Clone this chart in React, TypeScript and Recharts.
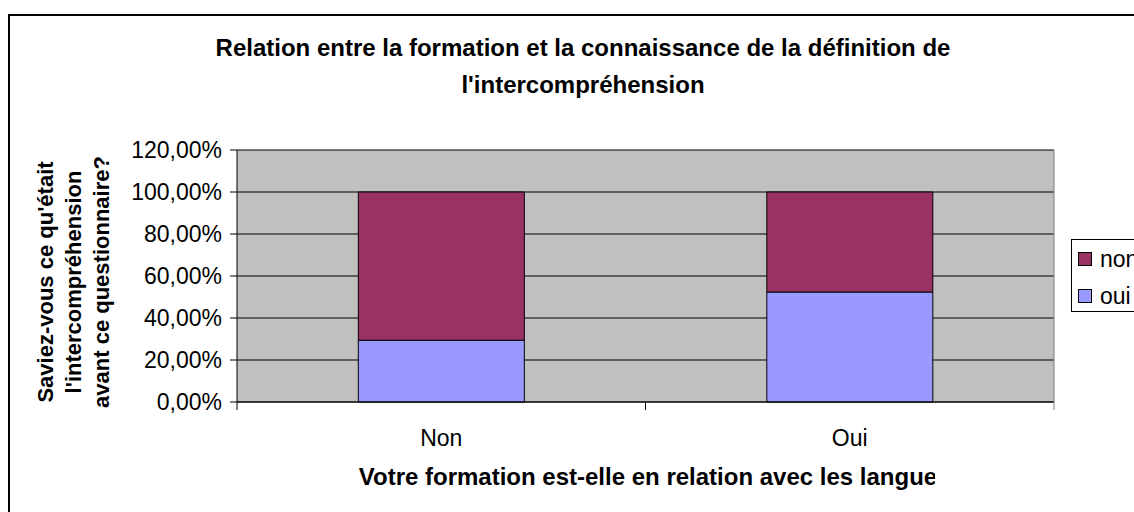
import React from 'react';
import { BarChart, Bar, XAxis, YAxis, CartesianGrid, Legend } from 'recharts';

const categories = ['Non', 'Oui'];
const ouiValues = [29.41, 52.38];
const nonValues = [70.59, 47.62];
const yTicks = [0, 20, 40, 60, 80, 100, 120];
const seriesKeys = ['oui', 'non'];
const seriesColors = ['#9999FF', '#993366'];
const legendOrder = ['non', 'oui'];

const titleLines = [
  'Relation entre la formation et la connaissance de la définition de',
  "l'intercompréhension",
];
const yTitleLines = ["Saviez-vous ce qu'était", "l'intercompréhension", 'avant ce questionnaire?'];
const xTitle = 'Votre formation est-elle en relation avec les langues?';

const data = categories.map((c, i) => ({ cat: c, oui: ouiValues[i], non: nonValues[i] }));

const FONT = '"Liberation Sans", Arial, Helvetica, sans-serif';

const XTick = (props: any) => {
  const { x, y, payload, index, visibleTicksCount } = props;
  const off = payload && payload.offset ? payload.offset : 0;
  return (
    <g>
      <line x1={x - off} x2={x - off} y1={y} y2={y + 8} stroke="#000" strokeWidth={1} />
      {index === visibleTicksCount - 1 && (
        <line x1={x + off} x2={x + off} y1={y} y2={y + 8} stroke="#808080" strokeWidth={1} />
      )}
      <text x={x} y={y + 44} textAnchor="middle" fontFamily={FONT} fontSize={23} fill="#000">
        {payload.value}
      </text>
    </g>
  );
};

const LegendBox = (props: any) => {
  const items = [...(props.payload || [])].sort(
    (a: any, b: any) => legendOrder.indexOf(a.value) - legendOrder.indexOf(b.value)
  );
  return (
    <div
      style={{
        position: 'relative',
        width: 80,
        height: 73,
        border: '1px solid #000',
        background: '#fff',
        boxSizing: 'border-box',
        fontFamily: FONT,
        fontSize: 23,
        color: '#000',
      }}
    >
      {items.map((it: any, i: number) => (
        <div
          key={it.value}
          style={{ position: 'absolute', left: 6, top: 12 + i * 37, display: 'flex', alignItems: 'center', height: 14 }}
        >
          <span
            style={{
              width: 14,
              height: 14,
              background: it.color,
              border: '1px solid #000',
              boxSizing: 'border-box',
              display: 'inline-block',
            }}
          />
          <span style={{ marginLeft: 8, lineHeight: '14px', whiteSpace: 'nowrap' }}>{it.value}</span>
        </div>
      ))}
    </div>
  );
};

export default function App() {
  return (
    <div
      style={{
        position: 'fixed',
        left: 0,
        top: 0,
        width: 1134,
        height: 512,
        overflow: 'hidden',
        background: '#fff',
      }}
    >
      <div
        style={{
          position: 'absolute',
          left: 8,
          top: 14,
          width: 1160,
          height: 520,
          border: '2px solid #000',
          boxSizing: 'border-box',
        }}
      />
      <div style={{ position: 'absolute', left: 0, top: 0 }}>
        <BarChart
          width={1134}
          height={512}
          data={data}
          margin={{ top: 150, right: 0, bottom: 50, left: 0 }}
          barCategoryGap="29.7%"
        >
          <CartesianGrid vertical={false} fill="#C0C0C0" stroke="#000" strokeWidth={1} />
          <XAxis
            dataKey="cat"
            height={60}
            interval={0}
            tickLine={false}
            tickSize={0}
            tickMargin={0}
            axisLine={{ stroke: '#000' }}
            tick={<XTick />}
          />
          <YAxis
            width={237}
            domain={[0, 120]}
            ticks={yTicks}
            interval={0}
            tickSize={7}
            tickMargin={8}
            axisLine={{ stroke: '#000' }}
            tickLine={{ stroke: '#000' }}
            tick={{ fontFamily: FONT, fontSize: 23, fill: '#000' }}
            tickFormatter={(v: number) => `${v},00%`}
          />
          <YAxis
            yAxisId="r"
            orientation="right"
            width={80}
            domain={[0, 120]}
            tick={false}
            tickLine={false}
            axisLine={{ stroke: '#808080' }}
          />
          {seriesKeys.map((k, i) => (
            <Bar
              key={k}
              dataKey={k}
              name={k}
              stackId="s"
              fill={seriesColors[i]}
              stroke="#000"
              strokeWidth={1}
              isAnimationActive={false}
            />
          ))}
          <Legend
            layout="vertical"
            align="center"
            verticalAlign="middle"
            content={<LegendBox />}
            wrapperStyle={{ left: 1071, top: 239, width: 80, height: 73 }}
          />
        </BarChart>
      </div>
      <svg
        width={1134}
        height={512}
        style={{ position: 'absolute', left: 0, top: 0, pointerEvents: 'none' }}
      >
        <defs>
          <clipPath id="xtitle-clip" clipPathUnits="userSpaceOnUse">
            <rect x={0} y={0} width={935} height={512} />
          </clipPath>
        </defs>
        {titleLines.map((t, i) => (
          <text
            key={i}
            x={583}
            y={56 + i * 37}
            textAnchor="middle"
            fontFamily={FONT}
            fontSize={24}
            fontWeight="bold"
            fill="#000"
          >
            {t}
          </text>
        ))}
        {yTitleLines.map((t, i) => {
          const bx = 53 + i * 28;
          const cy = 282;
          return (
            <text
              key={i}
              x={bx}
              y={cy}
              transform={`rotate(-90 ${bx} ${cy})`}
              textAnchor="middle"
              fontFamily={FONT}
              fontSize={22}
              fontWeight="bold"
              fill="#000"
            >
              {t}
            </text>
          );
        })}
        <g clipPath="url(#xtitle-clip)">
          <text
            x={662}
            y={485}
            textAnchor="middle"
            fontFamily={FONT}
            fontSize={24}
            fontWeight="bold"
            fill="#000"
          >
            {xTitle}
          </text>
        </g>
      </svg>
    </div>
  );
}
